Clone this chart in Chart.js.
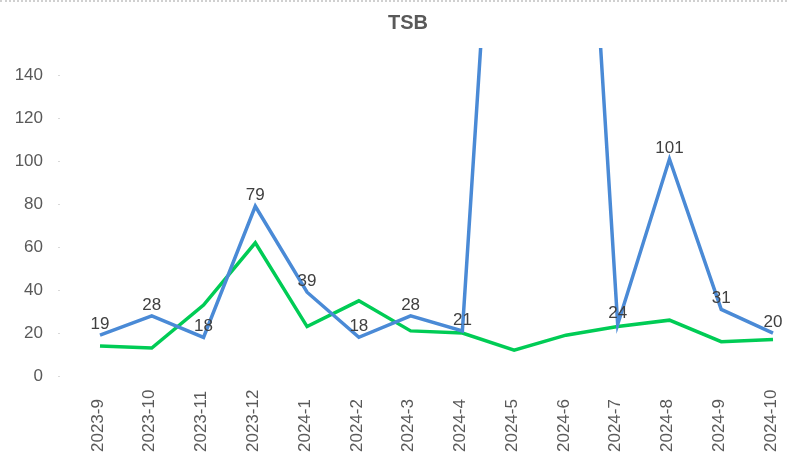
<!DOCTYPE html>
<html lang="en">
<head>
    <meta charset="UTF-8">
    <title>TSB</title>
    <script src="https://cdn.jsdelivr.net/npm/chart.js"></script>
    <style>
        body {
            margin: 0;
            padding: 0;
            background: #fff;
        }

        /* dotted frame edge at the very top */
        .wrap {
            position: relative;
            width: 787px;
            height: 453px;
        }

        .wrap .edge {
            position: absolute;
            left: 0;
            right: 0;
            top: 0;
            border-top: 2px dotted #d0d0d0;
        }
    </style>
</head>
<body>
    <div class="wrap">
        <div class="edge"></div>
        <canvas id="tsbChart" width="787" height="453"></canvas>
    </div>

    <script>
        const months = ['2023-9', '2023-10', '2023-11', '2023-12', '2024-1', '2024-2', '2024-3',
            '2024-4', '2024-5', '2024-6', '2024-7', '2024-8', '2024-9', '2024-10'];
        // blue series (labelled); 2024-5 and 2024-6 run off the top of the plot
        const blueValues = [19, 28, 18, 79, 39, 18, 28, 21, 395, 415, 24, 101, 31, 20];
        // green series (no labels)
        const greenValues = [14, 13, 33, 62, 23, 35, 21, 20, 12, 19, 23, 26, 16, 17];
        const yTicks = [0, 20, 40, 60, 80, 100, 120, 140];
        const yMax = 152.7;
        const chartTitle = 'TSB';

        const textFont = '17px "Liberation Sans", Arial, sans-serif';

        // title, value labels above the blue points, rotated month labels under the axis
        const labelPlugin = {
            id: 'labelPlugin',
            afterDatasetsDraw(chart) {
                const ctx = chart.ctx;
                const area = chart.chartArea;
                const meta = chart.getDatasetMeta(0);
                ctx.save();
                ctx.font = textFont;
                ctx.fillStyle = '#404040';
                ctx.textAlign = 'center';
                ctx.textBaseline = 'alphabetic';
                meta.data.forEach((pt, i) => {
                    if (pt.y < area.top) return;
                    ctx.fillText(String(blueValues[i]), pt.x, pt.y - 6);
                });
                ctx.restore();
            },
            afterDraw(chart) {
                const ctx = chart.ctx;
                const xScale = chart.scales.x;
                const yScale = chart.scales.y;
                ctx.save();
                ctx.fillStyle = '#595959';
                ctx.font = 'bold 20px "Liberation Sans", Arial, sans-serif';
                ctx.textAlign = 'center';
                ctx.textBaseline = 'middle';
                ctx.fillText(chartTitle, 408, 23);

                ctx.font = textFont;
                ctx.textAlign = 'left';
                months.forEach((m, i) => {
                    const x = xScale.getPixelForTick(i);
                    ctx.save();
                    ctx.translate(x - 2, 452);
                    ctx.rotate(-Math.PI / 2);
                    ctx.fillText(m, 0, 0);
                    ctx.restore();
                });

                // faint tick dots left of the plot
                ctx.fillStyle = '#d9d9d9';
                yTicks.forEach(v => {
                    const y = Math.round(yScale.getPixelForValue(v));
                    ctx.fillRect(58, y, 2, 1);
                });
                ctx.restore();
            }
        };

        const ctx = document.getElementById('tsbChart').getContext('2d');
        const tsbChart = new Chart(ctx, {
            type: 'line',
            data: {
                labels: months,
                datasets: [{
                    label: 'TSB',
                    data: blueValues,
                    borderColor: '#4A8AD6',
                    borderWidth: 3.5,
                    pointRadius: 0,
                    tension: 0
                }, {
                    label: 'TSB 2',
                    data: greenValues,
                    borderColor: '#00CC55',
                    borderWidth: 3.5,
                    pointRadius: 0,
                    tension: 0
                }]
            },
            options: {
                responsive: false,
                animation: false,
                layout: {
                    padding: { top: 48, right: 14, bottom: 0, left: 0 }
                },
                plugins: {
                    legend: { display: false },
                    tooltip: { enabled: false },
                    title: { display: false }
                },
                scales: {
                    x: {
                        offset: false,
                        grid: { display: false },
                        border: { display: false },
                        ticks: { display: false },
                        afterFit(scale) { scale.height = 77; }
                    },
                    y: {
                        min: 0,
                        max: yMax,
                        grid: { display: false, drawTicks: false },
                        border: { display: false },
                        ticks: {
                            color: '#595959',
                            font: { family: '"Liberation Sans", Arial, sans-serif', size: 17 },
                            padding: 57
                        },
                        afterBuildTicks(scale) {
                            scale.ticks = yTicks.map(v => ({ value: v }));
                        },
                        afterFit(scale) {
                            scale.width = 100;
                            // the big label gap should not push the plot area down
                            scale.paddingTop = 0;
                            scale.paddingBottom = 0;
                        }
                    }
                }
            },
            plugins: [labelPlugin]
        });
    </script>
</body>
</html>
